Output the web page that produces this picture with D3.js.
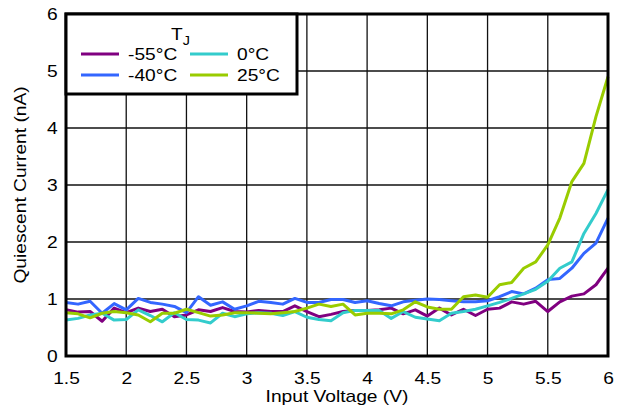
<!DOCTYPE html>
<html>
<head>
<meta charset="utf-8">
<script src="https://cdn.jsdelivr.net/npm/d3@7"></script>
<style>
  body { margin: 0; background: #fff; }
  svg text { font-family: "Liberation Sans", Arial, sans-serif; fill: #000; }
</style>
</head>
<body>
<div id="container"></div>
<script>
const WIDTH = 624;
const HEIGHT = 411;
const MARGIN = {top: 14, right: 16, bottom: 55, left: 66};
const INNER_WIDTH = WIDTH - MARGIN.left - MARGIN.right;
const INNER_HEIGHT = HEIGHT - MARGIN.top - MARGIN.bottom;
const STRETCH = "scale(1.2,1)"; // the source font is a bit wider than Arial

// input voltage, 1.5 V to 6 V in 0.1 V steps
var VOLTAGE = [1.5, 1.6, 1.7, 1.8, 1.9, 2.0, 2.1, 2.2, 2.3, 2.4, 2.5, 2.6, 2.7, 2.8, 2.9,
    3.0, 3.1, 3.2, 3.3, 3.4, 3.5, 3.6, 3.7, 3.8, 3.9, 4.0, 4.1, 4.2, 4.3, 4.4, 4.5,
    4.6, 4.7, 4.8, 4.9, 5.0, 5.1, 5.2, 5.3, 5.4, 5.5, 5.6, 5.7, 5.8, 5.9, 6.0];

var MINUS_55 = [0.81, 0.77, 0.78, 0.61, 0.84, 0.76, 0.84, 0.78, 0.82, 0.69, 0.72, 0.81, 0.78, 0.85, 0.78,
    0.77, 0.80, 0.78, 0.78, 0.88, 0.78, 0.69, 0.73, 0.78, 0.80, 0.80, 0.81, 0.84, 0.74, 0.81, 0.70,
    0.84, 0.72, 0.82, 0.71, 0.82, 0.84, 0.95, 0.91, 0.96, 0.78, 0.95, 1.05, 1.09, 1.25, 1.54];
var MINUS_40 = [0.94, 0.91, 0.96, 0.75, 0.92, 0.81, 1.01, 0.94, 0.91, 0.87, 0.76, 1.04, 0.89, 0.95, 0.82,
    0.88, 0.96, 0.94, 0.91, 1.01, 0.94, 0.94, 0.99, 0.99, 0.94, 0.97, 0.92, 0.88, 0.95, 0.98, 1.00,
    0.99, 0.97, 0.95, 0.95, 0.97, 1.04, 1.13, 1.09, 1.19, 1.34, 1.36, 1.54, 1.80, 1.98, 2.42];
var ZERO = [0.63, 0.66, 0.72, 0.75, 0.63, 0.64, 0.81, 0.71, 0.60, 0.76, 0.64, 0.63, 0.58, 0.75, 0.69,
    0.74, 0.76, 0.75, 0.71, 0.78, 0.68, 0.64, 0.62, 0.76, 0.80, 0.80, 0.80, 0.66, 0.78, 0.68, 0.65,
    0.62, 0.75, 0.78, 0.82, 0.88, 0.94, 1.01, 1.09, 1.17, 1.31, 1.54, 1.65, 2.15, 2.50, 2.92];
var PLUS_25 = [0.76, 0.74, 0.67, 0.75, 0.78, 0.76, 0.72, 0.60, 0.75, 0.75, 0.82, 0.76, 0.70, 0.72, 0.76,
    0.76, 0.75, 0.74, 0.76, 0.78, 0.84, 0.91, 0.87, 0.91, 0.72, 0.75, 0.75, 0.74, 0.81, 0.95, 0.86,
    0.82, 0.82, 1.04, 1.07, 1.03, 1.25, 1.29, 1.54, 1.65, 1.95, 2.42, 3.06, 3.38, 4.20, 4.90];

var X_TICKS = [1.5, 2, 2.5, 3, 3.5, 4, 4.5, 5, 5.5, 6];
var Y_TICKS = [0, 1, 2, 3, 4, 5, 6];

var series = [
    {name: "-55°C", values: MINUS_55, color: "#800080"},
    {name: "-40°C", values: MINUS_40, color: "#3366ff"},
    {name: "0°C", values: ZERO, color: "#33cccc"},
    {name: "25°C", values: PLUS_25, color: "#99cc00"}
];

var XScale = d3.scaleLinear().domain([1.5, 6]).range([0, INNER_WIDTH]);
var YScale = d3.scaleLinear().domain([0, 6]).range([INNER_HEIGHT, 0]);

var svg = d3.select("#container").append("svg")
    .attr("width", WIDTH)
    .attr("height", HEIGHT);

var plot = svg.append("g")
    .attr("transform", "translate(" + MARGIN.left + "," + MARGIN.top + ")");

// grid
plot.append("g")
    .selectAll("line")
    .data(X_TICKS)
    .enter().append("line")
    .attr("x1", d => XScale(d)).attr("x2", d => XScale(d))
    .attr("y1", 0).attr("y2", INNER_HEIGHT)
    .attr("stroke", "#111").attr("stroke-width", 1.3);

plot.append("g")
    .selectAll("line")
    .data(Y_TICKS)
    .enter().append("line")
    .attr("x1", 0).attr("x2", INNER_WIDTH)
    .attr("y1", d => YScale(d)).attr("y2", d => YScale(d))
    .attr("stroke", "#111").attr("stroke-width", 1.3);

// axes: labels only, ticks hidden
var xAxis = d3.axisBottom(XScale).tickValues(X_TICKS).tickSize(0).tickPadding(17)
    .tickFormat(d3.format("~g"));
var yAxis = d3.axisLeft(YScale).tickValues(Y_TICKS).tickSize(0).tickPadding(7)
    .tickFormat(d3.format("d"));

plot.append("g")
    .attr("transform", "translate(0," + INNER_HEIGHT + ")")
    .call(xAxis)
    .call(g => g.select(".domain").remove())
    .selectAll("text")
    .attr("font-family", null)
    .style("font-size", "16px")
    .attr("transform", STRETCH);

plot.append("g")
    .call(yAxis)
    .call(g => g.select(".domain").remove())
    .selectAll("text")
    .style("font-size", "16px")
    .attr("transform", STRETCH);

// data lines
var line = d3.line()
    .x((d, i) => XScale(VOLTAGE[i]))
    .y(d => YScale(d));

plot.append("g")
    .selectAll("path")
    .data(series)
    .enter().append("path")
    .attr("d", d => line(d.values))
    .attr("fill", "none")
    .attr("stroke", d => d.color)
    .attr("stroke-width", 3)
    .attr("stroke-linejoin", "round");

// frame
plot.append("rect")
    .attr("x", 0).attr("y", 0)
    .attr("width", INNER_WIDTH).attr("height", INNER_HEIGHT)
    .attr("fill", "none").attr("stroke", "#000").attr("stroke-width", 3);

// legend
var legend = plot.append("g");
legend.append("rect")
    .attr("x", 0).attr("y", 0)
    .attr("width", 231).attr("height", 80)
    .attr("fill", "#fff").attr("stroke", "#000").attr("stroke-width", 3);

var title = legend.append("text")
    .attr("transform", "translate(105,26) " + STRETCH)
    .style("font-size", "16px")
    .text("T");
title.append("tspan")
    .attr("dy", 5).style("font-size", "12px")
    .text("J");

var items = legend.selectAll(".item")
    .data(series)
    .enter().append("g")
    .attr("class", "item")
    .attr("transform", (d, i) => "translate(" + (i < 2 ? 15 : 124) + "," + (i % 2 === 0 ? 40 : 61) + ")");

items.append("line")
    .attr("x1", 0).attr("x2", 38)
    .attr("y1", 0).attr("y2", 0)
    .attr("stroke", d => d.color)
    .attr("stroke-width", 3);

items.append("text")
    .attr("transform", "translate(47,6) " + STRETCH)
    .style("font-size", "16px")
    .text(d => d.name);

// axis titles
svg.append("text")
    .attr("transform", "translate(" + (MARGIN.left + INNER_WIDTH / 2) + ",402) " + STRETCH)
    .attr("text-anchor", "middle")
    .style("font-size", "16px")
    .text("Input Voltage (V)");

svg.append("text")
    .attr("transform", "translate(26," + (MARGIN.top + INNER_HEIGHT / 2) + ") rotate(-90) " + STRETCH)
    .attr("text-anchor", "middle")
    .style("font-size", "16px")
    .text("Quiescent Current (nA)");
</script>
</body>
</html>
